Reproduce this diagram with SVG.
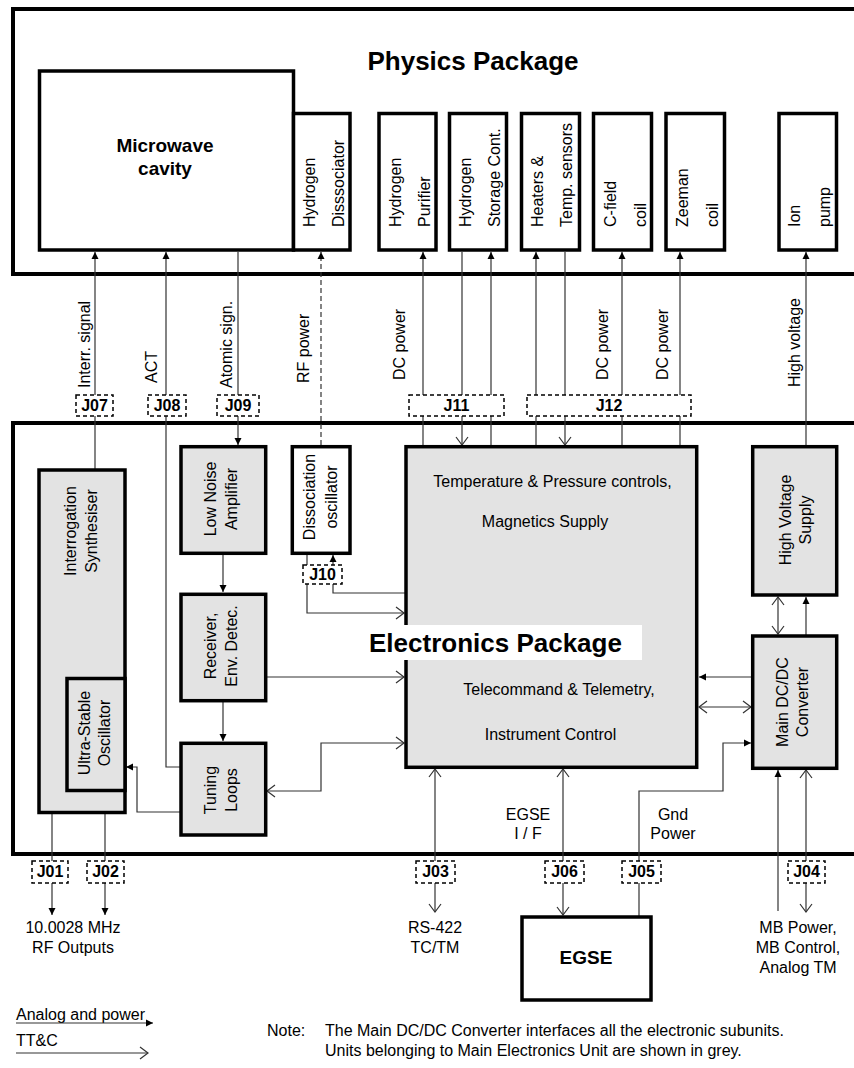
<svg xmlns="http://www.w3.org/2000/svg" width="854" height="1068" viewBox="0 0 854 1068">
<defs>
<style>
text{font-family:"Liberation Sans",Arial,sans-serif;font-size:16px;fill:#000}
.b{font-weight:bold}
.t{font-size:26px;font-weight:bold}
.big{font-size:19px;font-weight:bold}
.m{text-anchor:middle}
.box{fill:#fff;stroke:#000;stroke-width:3.5}
.g{fill:#e3e3e3;stroke:#000;stroke-width:3.5}
.pkg{fill:none;stroke:#000;stroke-width:4}
.jb{fill:#fff;stroke:#000;stroke-width:1.5;stroke-dasharray:4,3}
.c{fill:none;stroke:#333;stroke-width:1.2}
.d{stroke-dasharray:5,3}
.fa{marker-end:url(#fa)}
.oa{marker-end:url(#oa)}
.ob{marker-start:url(#oa);marker-end:url(#oa)}
</style>
<marker id="fa" viewBox="-8 -4 9 8" refX="0" refY="0" markerWidth="9" markerHeight="8" markerUnits="userSpaceOnUse" orient="auto-start-reverse"><path d="M-7,-3.5 L0,0 L-7,3.5 z" fill="#000"/></marker>
<marker id="oa" viewBox="-10 -7 11 14" refX="0" refY="0" markerWidth="11" markerHeight="14" markerUnits="userSpaceOnUse" orient="auto-start-reverse"><path d="M-8,-6 L0,0 L-8,6" fill="none" stroke="#333" stroke-width="1.2"/></marker>
</defs>
<rect width="854" height="1068" fill="#fff"/>

<g id="physics-package">
<rect class="pkg" x="13" y="9" width="900" height="265"/>
<text class="t m" x="473" y="70">Physics Package</text>
</g>
<g id="electronics-package">
<rect class="pkg" x="13" y="423" width="900" height="431"/>
</g>

<g id="connectors">
<path class="c fa" d="M95,469 V252"/>
<path class="c fa" d="M181,767 H166 V252"/>
<path class="c fa" d="M238,252 V445"/>
<path class="c d fa" d="M321,445 V252"/>
<path class="c fa" d="M423,445 V252"/>
<path class="c oa" d="M462,252 V445"/>
<path class="c fa" d="M491,445 V252"/>
<path class="c fa" d="M536,445 V252"/>
<path class="c oa" d="M565,252 V445"/>
<path class="c fa" d="M622,445 V252"/>
<path class="c fa" d="M680,445 V252"/>
<path class="c fa" d="M806,445 V252"/>
<path class="c fa" d="M223,553 V592"/>
<path class="c fa" d="M223,701 V741"/>
<path class="c oa" d="M266,677 H404"/>
<path class="c ob" d="M267,791 H321 V743 H404"/>
<path class="c fa" d="M181,812 H137 V767 H126"/>
<path class="c oa" d="M307,555 V613 H404"/>
<path class="c fa" d="M406,593 H333 V555"/>
<path class="c fa" d="M752,677 H699"/>
<path class="c ob" d="M699,707 H751"/>
<path class="c fa" d="M639,917 V791 H723 V743 H751"/>
<path class="c ob" d="M778,597 V634"/>
<path class="c fa" d="M806,636 V597"/>
<path class="c fa" d="M52,813 V915"/>
<path class="c fa" d="M105,813 V915"/>
<path class="c ob" d="M435,769 V912"/>
<path class="c ob" d="M563,769 V915"/>
<path class="c fa" d="M778,911 V770"/>
<path class="c ob" d="M806,770 V912"/>
</g>

<g id="connector-labels">
<text transform="translate(90,388) rotate(-90)">Interr. signal</text>
<text transform="translate(157,383) rotate(-90)">ACT</text>
<text transform="translate(232,388) rotate(-90)">Atomic sign.</text>
<text transform="translate(309,383) rotate(-90)">RF power</text>
<text transform="translate(405,380) rotate(-90)">DC power</text>
<text transform="translate(608,380) rotate(-90)">DC power</text>
<text transform="translate(668,380) rotate(-90)">DC power</text>
<text transform="translate(800,387) rotate(-90)">High voltage</text>
<text class="m" x="528" y="820">EGSE</text>
<text class="m" x="528" y="839">I / F</text>
<text class="m" x="673" y="820">Gnd</text>
<text class="m" x="673" y="839">Power</text>
</g>

<g id="microwave-cavity">
<rect class="box" x="39.5" y="71" width="254" height="179"/>
<text class="big m" x="165" y="152">Microwave</text>
<text class="big m" x="165" y="175">cavity</text>
</g>
<g id="hydrogen-dissociator">
<rect class="box" x="293.5" y="113.5" width="56.5" height="136.5"/>
<text transform="translate(315,227) rotate(-90)">Hydrogen</text>
<text transform="translate(344,227) rotate(-90)">Disssociator</text>
</g>
<g id="hydrogen-purifier">
<rect class="box" x="379" y="113.5" width="57" height="136.5"/>
<text transform="translate(401,227) rotate(-90)">Hydrogen</text>
<text transform="translate(430,227) rotate(-90)">Purifier</text>
</g>
<g id="hydrogen-storage">
<rect class="box" x="449.5" y="113.5" width="57" height="136.5"/>
<text transform="translate(471,227) rotate(-90)">Hydrogen</text>
<text transform="translate(500,227) rotate(-90)">Storage Cont.</text>
</g>
<g id="heaters">
<rect class="box" x="521.5" y="113.5" width="58" height="136.5"/>
<text transform="translate(543,227) rotate(-90)">Heaters &amp;</text>
<text transform="translate(572,227) rotate(-90)">Temp. sensors</text>
</g>
<g id="c-field-coil">
<rect class="box" x="593.5" y="113.5" width="58" height="136.5"/>
<text transform="translate(616,227) rotate(-90)">C-field</text>
<text transform="translate(646,227) rotate(-90)">coil</text>
</g>
<g id="zeeman-coil">
<rect class="box" x="666" y="113.5" width="58.5" height="136.5"/>
<text transform="translate(688,227) rotate(-90)">Zeeman</text>
<text transform="translate(718,227) rotate(-90)">coil</text>
</g>
<g id="ion-pump">
<rect class="box" x="779" y="113.5" width="57.5" height="136.5"/>
<text transform="translate(800,227) rotate(-90)">Ion</text>
<text transform="translate(830,227) rotate(-90)">pump</text>
</g>

<g id="interrogation-synthesiser">
<rect class="g" x="39" y="470" width="86" height="342.5"/>
<text class="m" transform="translate(76,531) rotate(-90)">Interrogation</text>
<text class="m" transform="translate(97,531) rotate(-90)">Synthesiser</text>
</g>
<g id="ultra-stable-oscillator">
<rect class="g" x="67" y="678.5" width="58" height="112"/>
<text class="m" transform="translate(90,733) rotate(-90)">Ultra-Stable</text>
<text class="m" transform="translate(110,733) rotate(-90)">Oscillator</text>
</g>
<g id="low-noise-amplifier">
<rect class="g" x="181" y="446.7" width="84.7" height="106.6"/>
<text class="m" transform="translate(216,499) rotate(-90)">Low Noise</text>
<text class="m" transform="translate(236.5,499) rotate(-90)">Amplifier</text>
</g>
<g id="receiver">
<rect class="g" x="181" y="594.3" width="84.7" height="106.4"/>
<text class="m" transform="translate(216,646) rotate(-90)">Receiver,</text>
<text class="m" transform="translate(236.5,646) rotate(-90)">Env. Detec.</text>
</g>
<g id="tuning-loops">
<rect class="g" x="181" y="743.3" width="84.7" height="91.7"/>
<text class="m" transform="translate(216,790) rotate(-90)">Tuning</text>
<text class="m" transform="translate(236.5,790) rotate(-90)">Loops</text>
</g>
<g id="dissociation-oscillator">
<rect class="box" x="292.3" y="446.7" width="57.7" height="106.6"/>
<text class="m" transform="translate(315,497) rotate(-90)">Dissociation</text>
<text class="m" transform="translate(337,497) rotate(-90)">oscillator</text>
</g>
<g id="main-electronics">
<rect class="g" x="406" y="446.7" width="290.7" height="320.6"/>
<text class="m" x="552.5" y="487">Temperature &amp; Pressure controls,</text>
<text class="m" x="545" y="527">Magnetics Supply</text>
<text class="m" x="559" y="695">Telecommand &amp; Telemetry,</text>
<text class="m" x="550.5" y="740">Instrument Control</text>
</g>
<g id="high-voltage-supply">
<rect class="g" x="752.7" y="446.7" width="84" height="148.3"/>
<text class="m" transform="translate(791,520) rotate(-90)">High Voltage</text>
<text class="m" transform="translate(811,520) rotate(-90)">Supply</text>
</g>
<g id="main-dcdc-converter">
<rect class="g" x="752.7" y="636" width="84" height="132.3"/>
<text class="m" transform="translate(788,702) rotate(-90)">Main DC/DC</text>
<text class="m" transform="translate(808,702) rotate(-90)">Converter</text>
</g>
<g id="electronics-title">
<rect x="367" y="625" width="275" height="35" fill="#fff"/>
<text class="t" x="369" y="652">Electronics Package</text>
</g>

<g id="connectors-j">
<rect class="jb" x="76" y="395" width="37" height="21"/><text class="b m" x="94.5" y="411">J07</text>
<rect class="jb" x="148" y="395" width="38" height="21"/><text class="b m" x="167" y="411">J08</text>
<rect class="jb" x="217" y="395" width="42" height="21"/><text class="b m" x="238" y="411">J09</text>
<rect class="jb" x="409" y="395" width="95" height="21"/><text class="b m" x="456.5" y="411">J11</text>
<rect class="jb" x="527" y="395" width="164" height="21"/><text class="b m" x="609" y="411">J12</text>
<rect class="jb" x="303" y="565" width="39" height="19"/><text class="b m" x="322.5" y="580">J10</text>
<rect class="jb" x="32" y="861" width="36" height="22"/><text class="b m" x="50" y="877">J01</text>
<rect class="jb" x="87" y="861" width="37" height="22"/><text class="b m" x="105.5" y="877">J02</text>
<rect class="jb" x="416" y="861" width="39" height="22"/><text class="b m" x="435.5" y="877">J03</text>
<rect class="jb" x="545" y="861" width="39" height="22"/><text class="b m" x="564.5" y="877">J06</text>
<rect class="jb" x="622" y="861" width="39" height="22"/><text class="b m" x="641.5" y="877">J05</text>
<rect class="jb" x="788" y="861" width="37" height="22"/><text class="b m" x="806.5" y="877">J04</text>
</g>

<g id="egse">
<rect class="box" x="522" y="917" width="129" height="83" stroke-width="4"/>
<text class="big m" x="586" y="964">EGSE</text>
</g>

<g id="outputs">
<text class="m" x="73" y="933">10.0028 MHz</text>
<text class="m" x="73" y="953">RF Outputs</text>
<text class="m" x="435" y="933">RS-422</text>
<text class="m" x="435" y="953">TC/TM</text>
<text class="m" x="798" y="933">MB Power,</text>
<text class="m" x="798" y="953">MB Control,</text>
<text class="m" x="798" y="973">Analog TM</text>
</g>

<g id="legend">
<text x="16" y="1020">Analog and power</text>
<path class="c fa" d="M16,1023 H153" stroke="#000"/>
<text x="16" y="1046">TT&amp;C</text>
<path class="c oa" d="M16,1053 H148" stroke="#000"/>
<text x="267" y="1036">Note:</text>
<text x="325" y="1036">The Main DC/DC Converter interfaces all the electronic subunits.</text>
<text x="325" y="1056">Units belonging to Main Electronics Unit are shown in grey.</text>
</g>
</svg>
